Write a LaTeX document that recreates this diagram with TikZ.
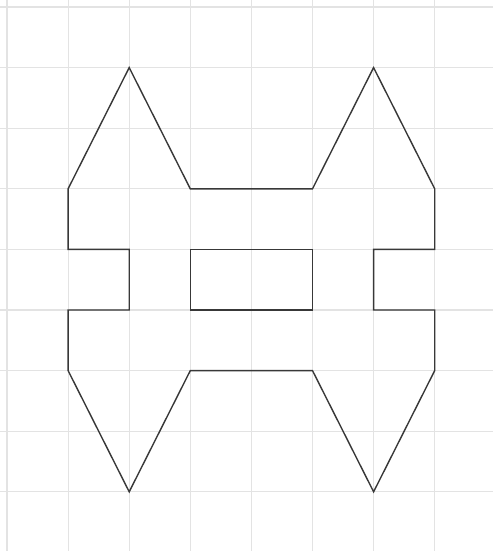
\documentclass[tikz,border=0pt]{standalone}
\begin{document}
\begin{tikzpicture}[x=61.1pt,y=-60.6pt,
  gridline/.style={draw=black!11,line width=1.2pt},
  outline/.style={draw=black!78,line width=1.4pt,line join=miter}]
\useasboundingbox[fill=white] (-7pt,7pt) rectangle (486pt,-544pt);
\foreach \i in {0,...,7} \draw[gridline] (\i*61.1pt,7pt) -- (\i*61.1pt,-544pt);
\foreach \j in {0,...,8} \draw[gridline] (-7pt,-\j*60.6pt) -- (486pt,-\j*60.6pt);
\draw[outline] (2,1) -- (3,3) -- (5,3) -- (6,1) -- (7,3) -- (7,4) -- (6,4) -- (6,5) -- (7,5) -- (7,6)
  -- (6,8) -- (5,6) -- (3,6) -- (2,8) -- (1,6) -- (1,5) -- (2,5) -- (2,4) -- (1,4) -- (1,3) -- cycle;
\draw[outline] (3,4) rectangle (5,5);
\end{tikzpicture}
\end{document}
